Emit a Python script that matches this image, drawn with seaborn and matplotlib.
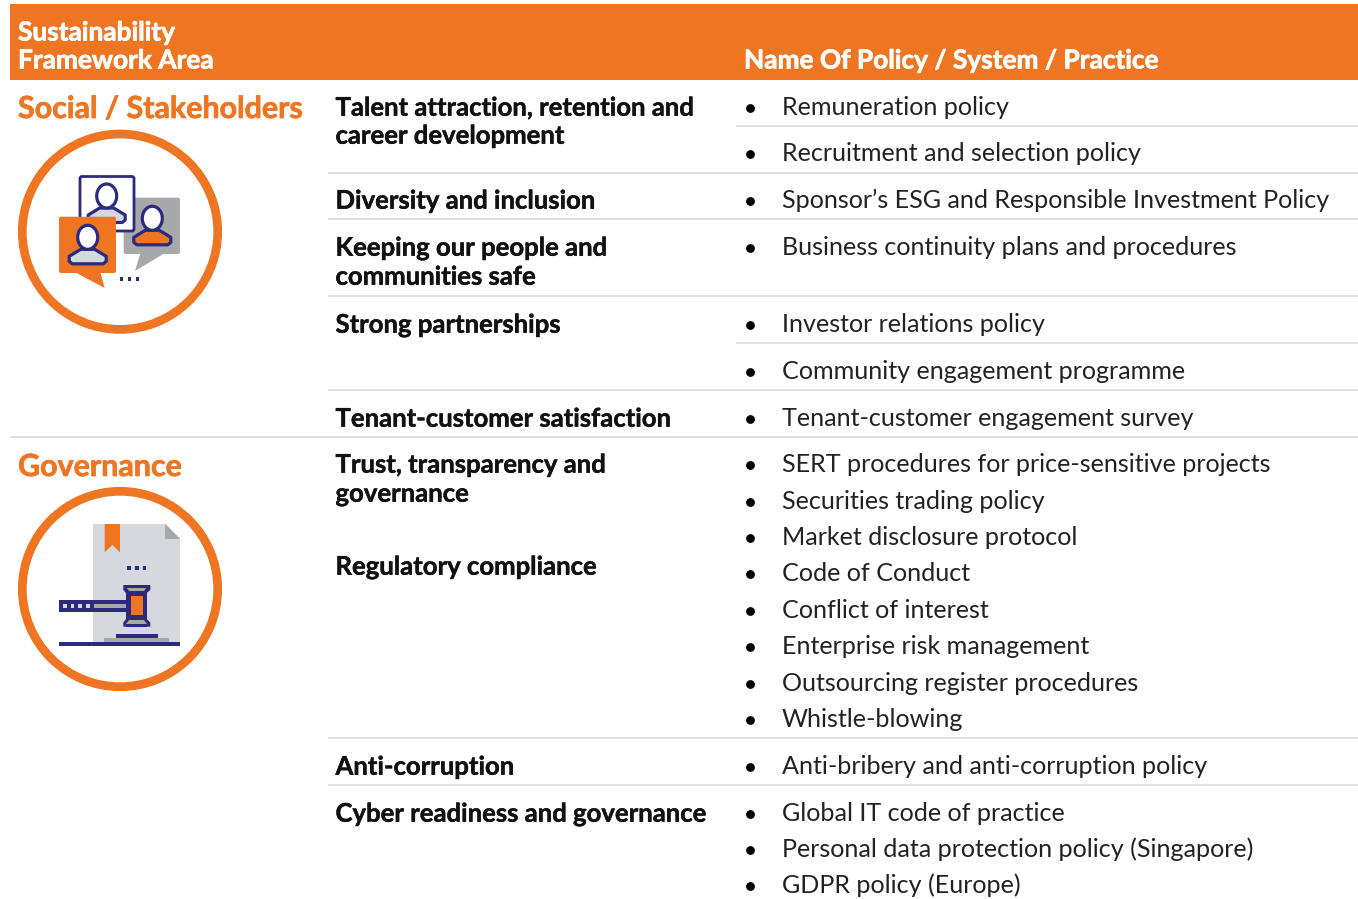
import matplotlib
matplotlib.use('Agg')
import matplotlib.pyplot as plt
import matplotlib.patches as mp
import matplotlib.patheffects as pe
import pandas as pd
import seaborn as sns

sns.set_theme(style='white')
plt.rcParams['font.family'] = ['Lato', 'DejaVu Sans']

ORANGE = '#EE7623'
NAVY = '#2B2A7F'
GREY = '#A7A8A9'
LIGHT = '#D5D8DC'
TEXT = '#111111'
BODY = '#222222'

# table text
header_left = ['Sustainability', 'Framework Area']
header_right = 'Name Of Policy / System / Practice'
sections = ['Social / Stakeholders', 'Governance']
topics = ['Talent attraction, retention and', 'career development', 'Diversity and inclusion',
          'Keeping our people and', 'communities safe', 'Strong partnerships',
          'Tenant-customer satisfaction', 'Trust, transparency and', 'governance',
          'Regulatory compliance', 'Anti-corruption', 'Cyber readiness and governance']
policies = ['Remuneration policy', 'Recruitment and selection policy',
            'Sponsor\u2019s ESG and Responsible Investment Policy',
            'Business continuity plans and procedures', 'Investor relations policy',
            'Community engagement programme', 'Tenant-customer engagement survey',
            'SERT procedures for price-sensitive projects', 'Securities trading policy',
            'Market disclosure protocol', 'Code of Conduct', 'Conflict of interest',
            'Enterprise risk management', 'Outsourcing register procedures', 'Whistle-blowing',
            'Anti-bribery and anti-corruption policy', 'Global IT code of practice',
            'Personal data protection policy (Singapore)', 'GDPR policy (Europe)']

# layout rows, in pixels from the top
topic_y = [107, 135, 200, 247, 276, 324, 418, 464, 493, 566, 766, 813]
policy_y = [107, 153, 200, 247, 324, 371, 418, 464, 501, 537, 573, 610, 646, 683, 719, 766, 813, 849, 885]
rules = [(126, 736), (173, 328), (219, 328), (296, 328), (343, 736), (390, 328),
         (437, 10), (738, 328), (785, 328)]

fig = plt.figure(figsize=(13.58, 8.99), dpi=100)
ax = fig.add_axes([0, 0, 1, 1])

BODY_SIZE = 18.1
TOPIC_SIZE = 18.5
HEAD_SIZE = 18.9
SECTION_SIZE = 21.9

# bullets
bullets = pd.DataFrame({'x': [749.5] * len(policy_y), 'y': [y + 1 for y in policy_y]})
sns.scatterplot(data=bullets, x='x', y='y', color='black', s=40, linewidth=0, ax=ax, zorder=3)

ax.set_xlim(0, 1358)
ax.set_ylim(899, 0)
ax.axis('off')


def bold(x, y, label, color, size, stroke=0.3):
    t = ax.text(x, y, label, color=color, fontsize=size, fontweight='bold', va='center')
    t.set_path_effects([pe.withStroke(linewidth=stroke, foreground=color)])


# header band
ax.add_patch(mp.Rectangle((10, 4), 1348, 76, color=ORANGE, lw=0))
bold(18, 32.5, header_left[0], 'white', HEAD_SIZE, 0.5)
bold(18, 60.5, header_left[1], 'white', HEAD_SIZE, 0.5)
bold(744, 60.5, header_right, 'white', HEAD_SIZE, 0.5)

bold(18, 109, sections[0], ORANGE, SECTION_SIZE, 0.5)
bold(18, 467, sections[1], ORANGE, SECTION_SIZE, 0.5)

for y, x0 in rules:
    ax.plot([x0, 1358], [y, y], color=LIGHT, lw=1.1, solid_capstyle='butt')
for label, y in zip(topics, topic_y):
    bold(335.5, y + 0.7, label, TEXT, TOPIC_SIZE)
for label, y in zip(policies, policy_y):
    ax.text(782, y + 0.7, label, color=BODY, fontsize=BODY_SIZE, va='center')


def rect(x0, y0, x1, y1, fc, z=4):
    ax.add_patch(mp.Rectangle((x0, y0), x1 - x0, y1 - y0, fc=fc, ec='none', lw=0, zorder=z))


def poly(pts, fc, z=4):
    ax.add_patch(mp.Polygon(pts, closed=True, fc=fc, ec='none', zorder=z))


def rounded(x0, y0, x1, y1, fc, z, ec='none', lw=0, r=2):
    ax.add_patch(mp.FancyBboxPatch((x0 + r, y0 + r), x1 - x0 - 2 * r, y1 - y0 - 2 * r,
                                   boxstyle='round,pad=%s,rounding_size=%s' % (r, r),
                                   fc=fc, ec=ec, lw=lw, zorder=z))


def person(cx, cy, body_fc, z):
    # shoulders then head
    pts = [(cx - 18.5, cy + 19), (cx - 7, cy + 12), (cx + 7, cy + 12), (cx + 18.5, cy + 19),
           (cx + 18.5, cy + 24), (cx + 15.5, cy + 26.5), (cx - 15.5, cy + 26.5), (cx - 18.5, cy + 24)]
    ax.add_patch(mp.Polygon(pts, closed=True, fc=body_fc, ec=NAVY, lw=2.3, joinstyle='round', zorder=z))
    ax.add_patch(mp.Ellipse((cx, cy), 20, 24, fc='white', ec=NAVY, lw=2.3, zorder=z + 0.1))


for cy in [231.7, 589]:
    ax.add_patch(mp.Circle((120, cy), 97.7, fc='white', ec=ORANGE, lw=6.3, zorder=2))

# social icon
poly([(140.7, 252), (166.7, 252), (135, 271)], GREY, 3.5)
rounded(123.7, 197.7, 180, 254, GREY, 3.5)
rounded(80, 176.5, 134, 231, 'white', 4, ec=NAVY, lw=2)
person(106.7, 196, LIGHT, 4.5)
person(152.3, 218.3, ORANGE, 5)
poly([(72.7, 271), (100, 271), (104.7, 288)], ORANGE, 6)
rounded(59, 216.7, 116, 273, ORANGE, 6)
person(87.7, 237.3, LIGHT, 7)
for x in [121.7, 129.5, 137.3]:
    rect(x - 1.7, 277.2, x + 1.7, 280.8, NAVY)

# governance icon
rect(93.3, 524, 180.3, 641.7, LIGHT, 3)
poly([(165, 523), (181, 523), (181, 539.3)], 'white', 3.2)
poly([(165, 524), (165, 539.3), (180.3, 539.3)], GREY, 3.3)
poly([(104.7, 524), (120, 524), (120, 552.3), (112.3, 545), (104.7, 552.3)], ORANGE)
for x in [129, 137, 144.3]:
    rect(x - 1.8, 566, x + 1.8, 569.6, NAVY)
rect(59.3, 600, 131, 611.7, NAVY)
rect(94, 604, 128, 607.7, GREY, 5)
for x in [65, 72.5, 80, 88]:
    rect(x - 1.8, 604, x + 1.8, 607.7, LIGHT, 5)
rect(126, 585, 146.7, 626.7, NAVY, 5)
poly([(123.3, 585), (150.3, 585), (150.3, 590), (146.7, 593), (126, 593), (123.3, 590)], NAVY, 5)
poly([(126, 619), (146.7, 619), (150.3, 622.5), (150.3, 626.7), (123.3, 626.7), (123.3, 622.5)], NAVY, 5)
rect(131, 596, 142.7, 615, ORANGE, 6)
poly([(127, 588), (146, 588), (144, 591), (129, 591)], GREY, 6)
poly([(129, 620), (144, 620), (147, 624), (126, 624)], GREY, 6)
rect(116, 634, 158, 638, NAVY, 5)
rect(104, 638, 169, 642, GREY, 5)
rect(59, 642, 180, 646, NAVY, 5)

fig.savefig('out.png', dpi=100, facecolor='white')
